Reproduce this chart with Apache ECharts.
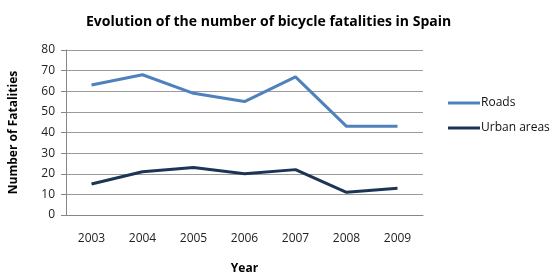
<!DOCTYPE html>
<html><head><meta charset="utf-8">
<script src="https://cdn.jsdelivr.net/npm/echarts@6/dist/echarts.min.js"></script>
<style>html,body{margin:0;padding:0;background:#fff}#c{width:559px;height:280px}</style>
</head><body><div id="c"></div>
<script>
var years = ['2003','2004','2005','2006','2007','2008','2009'];
var roads = [63, 68, 59, 55, 67, 43, 43];
var urban = [15, 21, 23, 20, 22, 11, 13];
var yTicks = {min: 0, max: 80, interval: 10};
var chart = echarts.init(document.getElementById('c'));
var font = 'Open Sans';
chart.setOption({
  animation: false,
  backgroundColor: '#fff',
  title: {text: 'Evolution of the number of bicycle fatalities in Spain', left: 81, top: 10,
    textStyle: {fontFamily: 'Open Sans', fontWeight: 'bold', fontSize: 14, color: '#000'}},
  grid: {left: 66, right: 136, top: 50, bottom: 60},
  legend: {orient: 'vertical', left: 443, top: 92, itemWidth: 32, itemHeight: 3, itemGap: 13,
    textStyle: {fontFamily: font, fontSize: 12, color: '#111', padding: [0,0,0,-4]},
    data: [{name: 'Roads', icon: 'rect'}, {name: 'Urban areas', icon: 'rect'}]},
  xAxis: {type: 'category', data: years, boundaryGap: true,
    name: 'Year', nameLocation: 'middle', nameGap: 48,
    nameTextStyle: {fontFamily: font, fontWeight: 'bold', fontSize: 12, color: '#000'},
    axisLine: {lineStyle: {color: '#868686'}}, axisTick: {show: false},
    axisLabel: {fontFamily: font, fontSize: 12, color: '#222', margin: 18}},
  yAxis: {type: 'value', min: yTicks.min, max: yTicks.max, interval: yTicks.interval,
    name: 'Number of Fatalities', nameLocation: 'middle', nameGap: 46,
    nameTextStyle: {fontFamily: font, fontWeight: 'bold', fontSize: 12, color: '#000'},
    axisLine: {show: true, lineStyle: {color: '#868686'}},
    axisTick: {show: true, length: 5, lineStyle: {color: '#868686'}},
    axisLabel: {fontFamily: font, fontSize: 12, color: '#222', margin: 11},
    splitLine: {lineStyle: {color: '#9a9a9a'}}},
  series: [
    {name: 'Roads', type: 'line', data: roads, symbol: 'none', color: '#4F81BD', lineStyle: {width: 3, color: '#4F81BD'}},
    {name: 'Urban areas', type: 'line', data: urban, symbol: 'none', color: '#1C3557', lineStyle: {width: 3, color: '#1C3557'}}
  ]
});
</script></body></html>
